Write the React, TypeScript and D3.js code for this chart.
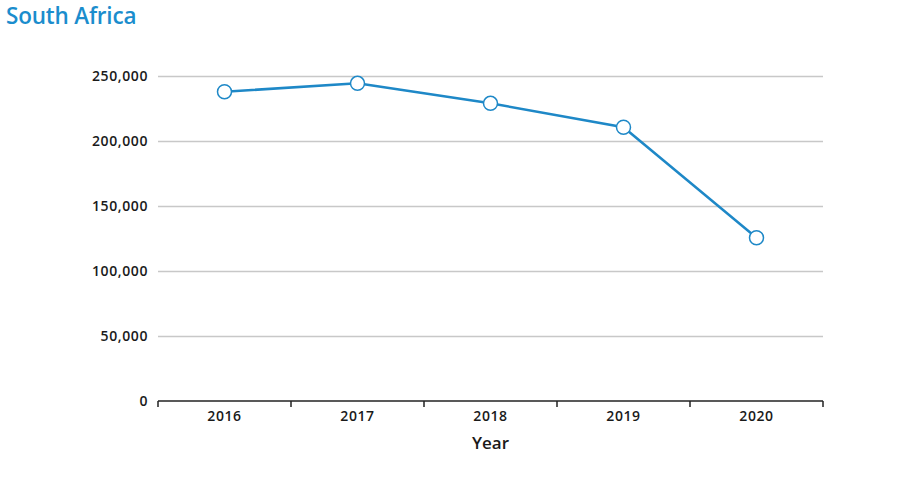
import React, { useEffect, useRef } from "react";
import * as d3 from "d3";

const years = ["2016", "2017", "2018", "2019", "2020"];
const values = [237500, 244000, 228600, 210200, 125200];
const yTicks = [0, 50000, 100000, 150000, 200000, 250000];
const title = "South Africa";
const xTitle = "Year";

export default function App() {
  const ref = useRef<SVGSVGElement>(null);
  useEffect(() => {
    const svg = d3.select(ref.current);
    svg.selectAll("*").remove();
    const left = 158, right = 823, top = 75.5, bottom = 400.5;
    const x = d3.scaleBand<string>().domain(years).range([left, right]);
    const y = d3.scaleLinear().domain([0, 250000]).range([bottom, top]);
    const blue = "#1e88c7";
    const font = "'Open Sans', sans-serif";

    svg.append("text").attr("x", 6).attr("y", 24).text(title)
      .attr("font-family", font).attr("font-size", 22.5).attr("font-weight", 600)
      .attr("fill", "#1b8dcd").attr("letter-spacing", -0.2);

    const g = svg.append("g");
    g.selectAll("line.grid").data(yTicks.filter(t => t > 0)).enter().append("line")
      .attr("x1", left).attr("x2", right)
      .attr("y1", d => Math.round(y(d)) + 0.5).attr("y2", d => Math.round(y(d)) + 0.5)
      .attr("stroke", "#c8c8c8").attr("stroke-width", 1.5);

    g.selectAll("text.yt").data(yTicks).enter().append("text")
      .attr("x", 148).attr("y", d => y(d) + 5)
      .attr("text-anchor", "end").text(d => d3.format(",")(d))
      .attr("font-family", font).attr("font-size", 14).attr("font-weight", 600)
      .attr("letter-spacing", 0.6)
      .attr("fill", "#1a1a1a");

    const xa = svg.append("g").attr("transform", `translate(0,${Math.round(bottom)})`);
    xa.append("line").attr("x1", left).attr("x2", right).attr("y1", 0).attr("y2", 0)
      .attr("stroke", "#222").attr("stroke-width", 1.5);
    const bounds = years.map(yr => x(yr)!).concat([right]);
    xa.selectAll("line.tick").data(bounds).enter().append("line")
      .attr("x1", d => d).attr("x2", d => d).attr("y1", 0).attr("y2", 6)
      .attr("stroke", "#222").attr("stroke-width", 1.5);
    xa.selectAll("text.xt").data(years).enter().append("text")
      .attr("x", d => x(d)! + x.bandwidth() / 2).attr("y", 20)
      .attr("text-anchor", "middle").text(d => d)
      .attr("font-family", font).attr("font-size", 14).attr("font-weight", 600)
      .attr("letter-spacing", 0.6)
      .attr("fill", "#1a1a1a");
    svg.append("text").attr("x", (left + right) / 2).attr("y", 449)
      .attr("text-anchor", "middle").text(xTitle)
      .attr("font-family", font).attr("font-size", 17).attr("font-weight", 600)
      .attr("fill", "#1a1a1a");

    const line = d3.line<number>()
      .x((_, i) => x(years[i])! + x.bandwidth() / 2)
      .y(d => y(d));
    svg.append("path").datum(values).attr("d", line).attr("fill", "none")
      .attr("stroke", blue).attr("stroke-width", 2.5);
    svg.selectAll("circle.pt").data(values).enter().append("circle")
      .attr("cx", (_, i) => x(years[i])! + x.bandwidth() / 2)
      .attr("cy", d => y(d)).attr("r", 7)
      .attr("fill", "#fff").attr("stroke", blue).attr("stroke-width", 1.5);
  }, []);
  return (
    <svg ref={ref} width={913} height={500}
      style={{ position: "absolute", left: 0, top: 0, background: "#fff" }} />
  );
}
